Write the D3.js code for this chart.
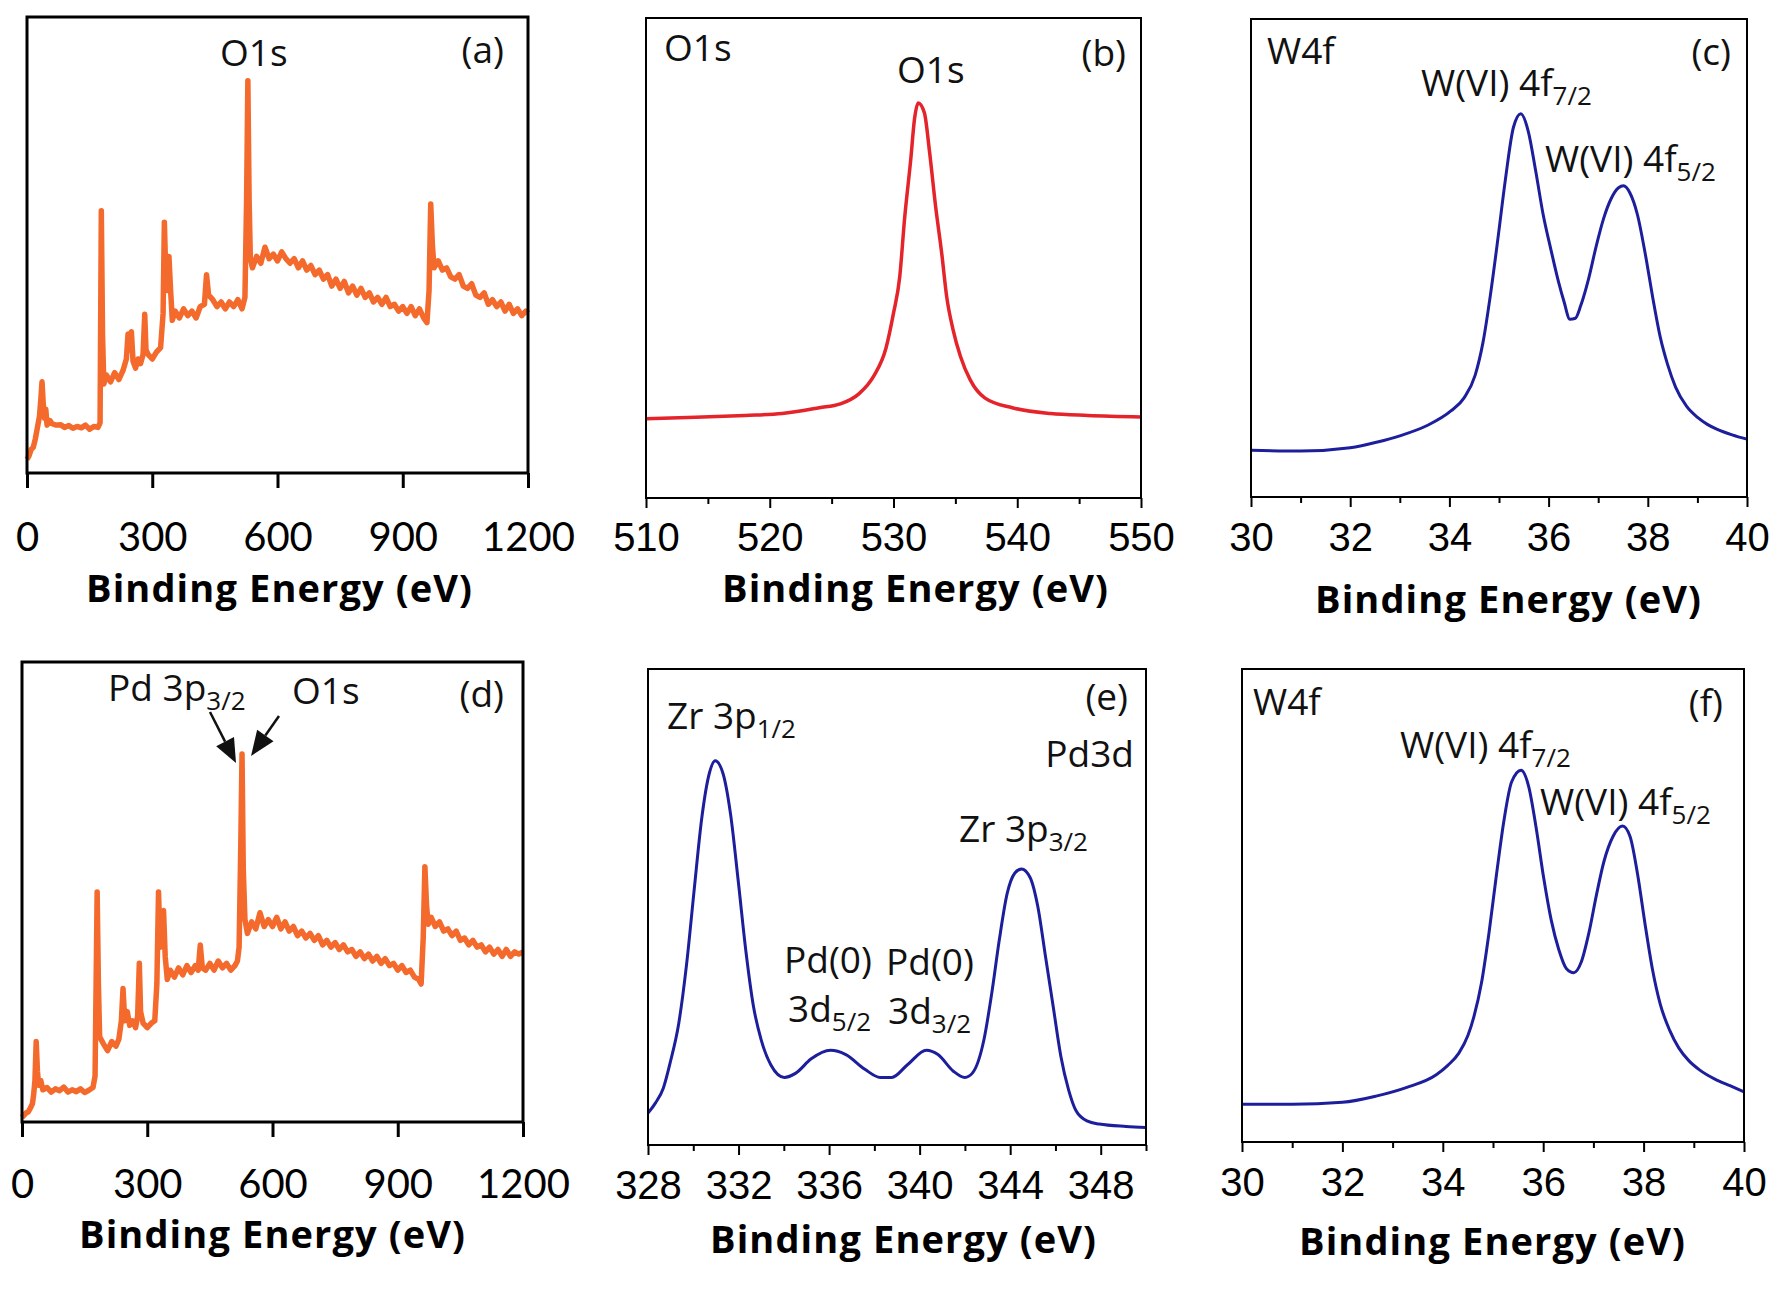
<!DOCTYPE html>
<html>
<head>
<meta charset="utf-8">
<script src="https://cdn.jsdelivr.net/npm/d3@7"></script>
<style>
  body { margin: 0; background: #fff; }
  svg { display: block; }
</style>
</head>
<body>
<div id="chart"></div>
<script>
// ---- data (intensity in arbitrary units, 0 = axis, 100 = frame top) ----

// (a) survey, sample 1
var surveyA_eV = [0,5,10,15,20,25,30,33,36,39,42,45,48,55,60,70,80,90,100,110,120,130,140,150,160,170,175,178,181,184,190,200,210,220,230,238,242,246,250,254,260,266,272,278,282,285,290,300,310,320,326,329,332,336,340,344,348,355,365,375,385,395,405,415,425,430,435,445,455,465,475,485,495,505,515,522,526,529,532,535,540,550,560,570,580,590,600,610,620,630,640,650,660,670,680,690,700,710,720,730,740,750,760,770,780,790,800,810,820,830,840,850,860,870,880,890,900,910,920,930,940,950,958,963,967,971,975,985,995,1005,1015,1025,1035,1045,1055,1065,1075,1085,1095,1105,1115,1125,1135,1145,1155,1165,1175,1185,1195,1200];
var surveyA_int = [3.0,3.8,5.2,5.6,7.5,10.0,12.5,16,20.0,15,12.0,14.0,10.5,11.5,10.8,10.5,10.6,10.0,10.4,9.8,10.2,9.9,10.5,9.6,10.2,10.0,11.0,57.5,30,19.5,21.5,20.0,22.0,20.5,22.5,25,30.5,27,31.0,24.5,23.0,25.0,24.0,26.0,34.8,27,26.0,25.0,26.5,27.5,35,55.0,45,40,47.5,40,33.5,35.5,34.0,36.0,34.5,35.5,34.0,36.5,37.0,43.5,39.0,38.0,36.5,37.5,36.0,37.5,36.5,38.0,36.0,38.5,60,86.0,60,47,45.0,47.5,46.0,49.5,47.0,48.0,46.5,48.5,47.0,46.0,47.0,45.0,46.5,44.5,45.5,43.5,44.5,42.5,43.5,41.0,42.5,40.5,42.0,39.5,41.0,39.0,40.5,38.5,39.5,37.5,38.5,37.0,38.5,36.5,37.0,35.5,36.5,35.0,36.5,34.5,36.0,34.0,33.0,40,59.0,50,45.0,46.5,44.5,45.0,43.0,42.5,43.5,41.0,40.5,41.5,39.0,38.5,39.5,37.0,38.0,36.5,37.5,35.5,37.0,35.0,36.0,34.5,35.5,35.0];

// (d) survey, sample 2
var surveyD_eV = [0,5,10,15,20,25,28,31,34,37,40,45,50,60,70,80,90,100,110,120,130,140,150,160,170,175,180,183,186,195,205,215,225,232,238,242,246,252,258,265,272,277,281,284,290,300,310,318,323,327,331,335,339,343,348,355,365,375,385,395,405,415,422,427,432,440,450,460,470,480,490,500,510,516,520,524,527,530,534,540,550,560,570,580,590,600,610,620,630,640,650,660,670,680,690,700,710,720,730,740,750,760,770,780,790,800,810,820,830,840,850,860,870,880,890,900,910,920,930,940,950,956,961,965,969,973,980,990,1000,1010,1020,1030,1040,1050,1060,1070,1080,1090,1100,1110,1120,1130,1140,1150,1160,1170,1180,1190,1200];
var surveyD_int = [1.0,1.5,2.0,2.2,3.0,4.0,6.0,9,17.5,11,8.0,9.0,7.0,7.5,6.5,7.2,6.8,7.6,6.5,7.0,6.6,7.2,6.4,6.9,7.5,10,50.0,30,18.5,17.0,15.5,17.5,16.5,18.0,22,29.0,22,24,21.0,22,20.5,23,34.5,24,21.5,20.5,21.5,22,30,50.0,38,40,46.0,36,31.0,33.0,31.5,33.5,32.0,34.0,32.5,34.0,33.0,38.5,33.5,33.0,34.5,33.0,35.0,33.5,34.5,33.0,34.0,35.0,38,60,80.0,55,44,41.0,43.5,42.0,45.5,42.5,44.0,42.5,44.5,42.0,43.5,41.5,42.5,40.5,41.5,40.0,41.0,39.5,40.5,38.5,39.5,38.0,39.0,37.5,38.5,37.0,37.5,36.0,37.0,35.5,36.5,35.0,36.0,34.5,35.5,34.0,34.5,33.0,34.0,32.5,33.0,31.5,31.0,30.0,40,55.5,47,43,44.5,42.5,43.5,41.5,42.0,40.5,41.5,39.5,40.0,38.5,39.5,38.0,38.5,37.0,38.0,36.5,37.5,36.0,37.5,36.0,37.0,36.5,37.0];

// (b) O1s
var o1s_eV  = [510,514,518,521,524,525.7,527.2,528.4,529.4,530.0,530.5,530.9,531.4,531.7,532.0,532.5,532.9,533.4,533.9,534.3,534.8,535.4,536.2,537.4,539.6,542.7,545.7,550];
var o1s_int = [16.5,16.8,17.2,17.6,18.8,19.6,21.7,25.4,31.3,38.5,46,58.3,70.7,79,82.3,80.2,72.4,60.8,50.9,41.9,35.2,29.6,24.6,20.8,18.8,17.6,17.2,16.9];

// (c) W4f, sample 1
var w4fC_eV  = [30.0,31.0,32.0,32.55,33.0,33.54,34.03,34.30,34.52,34.68,34.83,34.98,35.13,35.29,35.44,35.59,35.74,35.89,36.05,36.20,36.31,36.43,36.54,36.65,36.81,36.96,37.11,37.26,37.41,37.51,37.64,37.79,37.95,38.10,38.25,38.40,38.56,38.78,39.01,39.20,39.39,39.70,40.0];
var w4fC_int = [9.8,9.6,10.3,11.5,12.8,14.9,18.0,20.8,25.5,32.5,42.5,54.2,66.5,77.3,80.2,76.5,68.2,59.1,51.6,45,40.9,37.2,37.4,40.1,45.8,52.5,58.3,62.4,64.7,65.1,63.6,59.1,50.8,41.7,33.5,27.7,23.0,19.0,16.6,15.2,14.2,13.0,12.1];

// (e) Pd3d / Zr3p
var pd3d_eV  = [328.0,328.34,328.68,329.0,329.36,329.7,330.04,330.37,330.71,330.97,331.31,331.65,331.99,332.33,332.66,333.0,333.43,334.02,334.53,335.21,336.06,336.74,337.58,338.26,338.77,339.45,340.3,340.81,341.49,342.0,342.33,342.84,343.18,343.52,343.86,344.2,344.5,344.88,345.22,345.56,345.9,346.24,346.58,346.91,347.42,347.93,349.12,350.0];
var pd3d_int = [6.7,8.9,12,17.7,25.6,37.8,53.6,68.5,78.1,80.7,78.1,69.4,55.3,40.5,29.1,22.1,16.8,14.2,15.1,18.1,19.9,19,15.9,14.2,14.2,16.8,19.9,19,15.5,14.2,15.1,22.1,31.7,43.1,52.7,57.1,58,56.2,50.1,39.6,29.1,18.6,11.6,7.2,5,4.4,3.9,3.7];

// (f) W4f, sample 2
var w4fF_eV  = [30.0,31.0,32.0,32.67,33.27,33.87,34.10,34.32,34.50,34.62,34.77,34.92,35.07,35.22,35.37,35.56,35.71,35.86,36.01,36.16,36.31,36.46,36.61,36.76,36.91,37.06,37.21,37.39,37.58,37.73,37.88,38.03,38.18,38.33,38.52,38.70,38.90,39.12,39.42,39.72,40.0];
var w4fF_int = [8.0,8.0,8.4,9.7,11.5,14.2,16.2,18.8,22.5,26.5,33.6,44.2,56.6,68.1,76.1,78.6,75.2,66.4,55.8,46.9,40.7,36.7,35.8,38.1,44.2,52.2,59.3,64.6,66.8,64.6,56.6,46,36.3,29.2,23.6,19.9,17.2,15.2,13.3,11.9,10.6];

// tick values
var surveyTicks = [0, 300, 600, 900, 1200];
var o1sMajor = [510, 520, 530, 540, 550];
var o1sMinor = [515, 525, 535, 545];
var w4fMajor = [30, 32, 34, 36, 38, 40];
var w4fMinor = [31, 33, 35, 37, 39];
var pdMajor = [328, 332, 336, 340, 344, 348];
var pdMinor = [330, 334, 338, 342, 346, 350];

var xTitle = "Binding Energy (eV)";

// ---- drawing ----
var svg = d3.select("#chart")
    .append("svg")
    .attr("width", 1772)
    .attr("height", 1295);

svg.append("rect").attr("width", 1772).attr("height", 1295).attr("fill", "#fff");

var ORANGE = "#f4692c", RED = "#e4232a", BLUE = "#1d1e9c";
var CALIBRI = "Lato, 'Open Sans', sans-serif";
var NOTE = "'Open Sans', Lato, sans-serif";
var ARIAL = "'Liberation Sans', Arial, sans-serif";

function drawPanel(p) {
    var x = d3.scaleLinear().domain(p.domain).range([p.x0, p.x1]);
    var y = d3.scaleLinear().domain([0, 100]).range([p.y1, p.y0]);
    var g = svg.append("g");

    var line = d3.line()
        .x(function (d) { return x(d[0]); })
        .y(function (d) { return y(d[1]); })
        .curve(p.curve);

    g.append("path")
        .datum(d3.zip(p.ev, p.int))
        .attr("d", line)
        .attr("fill", "none")
        .attr("stroke", p.color)
        .attr("stroke-width", p.lineW)
        .attr("stroke-linejoin", "round");

    // frame
    g.append("rect")
        .attr("x", p.x0).attr("y", p.y0)
        .attr("width", p.x1 - p.x0).attr("height", p.y1 - p.y0)
        .attr("fill", "none")
        .attr("stroke", "#000")
        .attr("stroke-width", p.boxW);

    // minor ticks
    if (p.minor) {
        var mn = g.append("g")
            .attr("transform", "translate(0," + p.y1 + ")")
            .call(d3.axisBottom(x).tickValues(p.minor).tickSize(p.minorLen).tickSizeOuter(0).tickFormat(""));
        mn.select(".domain").remove();
        mn.selectAll("line").attr("stroke", "#000").attr("stroke-width", p.boxW);
    }

    // major ticks + labels
    var ax = g.append("g")
        .attr("transform", "translate(0," + p.y1 + ")")
        .call(d3.axisBottom(x).tickValues(p.major).tickSize(p.majorLen).tickSizeOuter(0).tickFormat(d3.format("d")));
    ax.select(".domain").remove();
    ax.selectAll("line").attr("stroke", "#000").attr("stroke-width", p.boxW);
    ax.selectAll("text")
        .attr("y", p.tickBase - p.y1)
        .attr("dy", null)
        .attr("fill", "#000")
        .style("font-family", p.tickFont)
        .style("font-size", "40px");

    // axis title
    svg.append("text")
        .attr("x", p.titleX)
        .attr("y", p.titleY)
        .attr("text-anchor", "middle")
        .attr("textLength", 386)
        .attr("lengthAdjust", "spacing")
        .style("font-family", "'Open Sans', sans-serif")
        .style("font-weight", "bold")
        .style("font-size", "38px")
        .attr("fill", "#000")
        .text(xTitle);
}

// label with optional subscript: parts = [main, sub, main, ...]
function label(x, y, parts, anchor) {
    var t = svg.append("text")
        .attr("x", x).attr("y", y)
        .attr("text-anchor", anchor || "start")
        .style("font-family", NOTE)
        .style("font-size", "37px")
        .attr("fill", "#111");
    parts.forEach(function (s, i) {
        var isSub = i % 2 === 1;
        var ts = t.append("tspan").text(s);
        if (isSub) {
            ts.attr("dy", 9).style("font-size", "26px");
        } else if (i > 0) {
            ts.attr("dy", -9);
        }
    });
    return t;
}

function arrow(x1, y1, x2, y2, headLen, headW) {
    var dx = x2 - x1, dy = y2 - y1, L = Math.sqrt(dx * dx + dy * dy);
    var ux = dx / L, uy = dy / L;
    var bx = x2 - ux * headLen, by = y2 - uy * headLen;
    svg.append("line")
        .attr("x1", x1).attr("y1", y1).attr("x2", bx).attr("y2", by)
        .attr("stroke", "#111").attr("stroke-width", 2.5);
    svg.append("polygon")
        .attr("points", [
            [x2, y2],
            [bx - uy * headW / 2, by + ux * headW / 2],
            [bx + uy * headW / 2, by - ux * headW / 2]
        ].map(function (q) { return q.join(","); }).join(" "))
        .attr("fill", "#111");
}

// (a)
drawPanel({ x0: 27, x1: 528, y0: 17, y1: 473, domain: [0, 1200], ev: surveyA_eV, int: surveyA_int,
    color: ORANGE, lineW: 5.5, curve: d3.curveLinear, boxW: 3, major: surveyTicks, minor: null,
    majorLen: 15, minorLen: 0, tickFont: CALIBRI, tickBase: 551, titleX: 279, titleY: 602 });
// (b)
drawPanel({ x0: 646, x1: 1141, y0: 18, y1: 498, domain: [510, 550], ev: o1s_eV, int: o1s_int,
    color: RED, lineW: 3.5, curve: d3.curveMonotoneX, boxW: 2, major: o1sMajor, minor: o1sMinor,
    majorLen: 10, minorLen: 6, tickFont: ARIAL, tickBase: 551, titleX: 915, titleY: 602 });
// (c)
drawPanel({ x0: 1251, x1: 1747, y0: 19, y1: 497, domain: [30, 40], ev: w4fC_eV, int: w4fC_int,
    color: BLUE, lineW: 3, curve: d3.curveMonotoneX, boxW: 2, major: w4fMajor, minor: w4fMinor,
    majorLen: 10, minorLen: 6, tickFont: ARIAL, tickBase: 551, titleX: 1508, titleY: 613 });
// (d)
drawPanel({ x0: 22, x1: 523, y0: 662, y1: 1122, domain: [0, 1200], ev: surveyD_eV, int: surveyD_int,
    color: ORANGE, lineW: 5.5, curve: d3.curveLinear, boxW: 3, major: surveyTicks, minor: null,
    majorLen: 15, minorLen: 0, tickFont: CALIBRI, tickBase: 1198, titleX: 272, titleY: 1248 });
// (e)
drawPanel({ x0: 648, x1: 1146, y0: 669, y1: 1145, domain: [328, 350], ev: pd3d_eV, int: pd3d_int,
    color: BLUE, lineW: 3, curve: d3.curveMonotoneX, boxW: 2, major: pdMajor, minor: pdMinor,
    majorLen: 10, minorLen: 6, tickFont: ARIAL, tickBase: 1199, titleX: 903, titleY: 1253 });
// (f)
drawPanel({ x0: 1242, x1: 1744, y0: 669, y1: 1142, domain: [30, 40], ev: w4fF_eV, int: w4fF_int,
    color: BLUE, lineW: 3, curve: d3.curveMonotoneX, boxW: 2, major: w4fMajor, minor: w4fMinor,
    majorLen: 10, minorLen: 6, tickFont: ARIAL, tickBase: 1196, titleX: 1492, titleY: 1255 });

// annotations
label(220, 66, ["O1s"]);
label(504, 63, ["(a)"], "end");

label(664, 61, ["O1s"]);
label(1126, 66, ["(b)"], "end");
label(897, 83, ["O1s"]);

label(1267, 64, ["W4f"]);
label(1731, 65, ["(c)"], "end");
label(1421, 96, ["W(VI) 4f", "7/2"]);
label(1545, 172, ["W(VI) 4f", "5/2"]);

label(108, 701, ["Pd 3p", "3/2"]);
label(292, 704, ["O1s"]);
label(504, 707, ["(d)"], "end");
arrow(210, 712, 236, 763, 24, 20);
arrow(279, 716, 251, 756, 25, 20);

label(1128, 710, ["(e)"], "end");
label(1134, 767, ["Pd3d"], "end");
label(667, 729, ["Zr 3p", "1/2"]);
label(959, 842, ["Zr 3p", "3/2"]);
label(784, 973, ["Pd(0)"]);
label(788, 1022, ["3d", "5/2"]);
label(886, 975, ["Pd(0)"]);
label(888, 1024, ["3d", "3/2"]);

label(1253, 715, ["W4f"]);
label(1723, 716, ["(f)"], "end");
label(1400, 758, ["W(VI) 4f", "7/2"]);
label(1540, 815, ["W(VI) 4f", "5/2"]);
</script>
</body>
</html>
